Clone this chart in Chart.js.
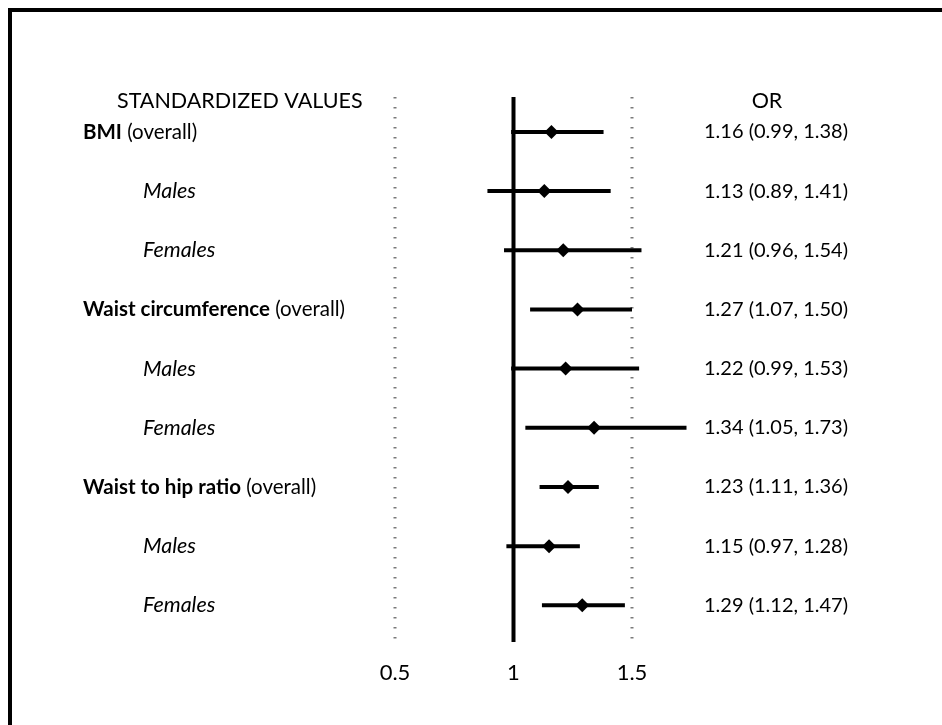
<!DOCTYPE html>
<html>
<head>
<meta charset="utf-8">
<script src="https://cdn.jsdelivr.net/npm/chart.js@4.4.1/dist/chart.umd.min.js"></script>
<style>
  html, body { margin: 0; padding: 0; background: #fff; }
  #wrap { position: relative; width: 942px; height: 725px; overflow: hidden; }
  #frame { position: absolute; left: 8px; top: 8px; width: 960px; height: 760px;
           border-top: 4px solid #000; border-left: 4px solid #000; pointer-events: none; }
  canvas { position: absolute; left: 0; top: 0; }
</style>
</head>
<body>
<div id="wrap">
  <canvas id="c" width="942" height="725"></canvas>
  <div id="frame"></div>
</div>
<script>
// ---- data ----
const rowNames    = ['BMI', 'Males', 'Females', 'Waist circumference', 'Males', 'Females', 'Waist to hip ratio', 'Males', 'Females'];
const rowSuffixes = [' (overall)', '', '', ' (overall)', '', '', ' (overall)', '', ''];
const orValues    = [1.16, 1.13, 1.21, 1.27, 1.22, 1.34, 1.23, 1.15, 1.29];
const lowerCI     = [0.99, 0.89, 0.96, 1.07, 0.99, 1.05, 1.11, 0.97, 1.12];
const upperCI     = [1.38, 1.41, 1.54, 1.50, 1.53, 1.73, 1.36, 1.28, 1.47];
const xTicks      = [0.5, 1, 1.5];
const refSolid    = 1;
const refDotted   = [0.5, 1.5];
const leftHeader  = 'STANDARDIZED VALUES';
const rightHeader = 'OR';

const FONT = 'Lato, "Liberation Sans", sans-serif';

// CI line datasets (one per row) built from the arrays
const ciDatasets = rowNames.map((n, i) => ({
  type: 'line',
  data: [{ x: lowerCI[i], y: i }, { x: upperCI[i], y: i }],
  borderColor: '#000',
  borderWidth: 4,
  pointRadius: 0,
  borderCapStyle: 'butt',
  clip: false,
  order: 2
}));

const pointDataset = {
  type: 'scatter',
  data: orValues.map((v, i) => ({ x: v, y: i })),
  pointStyle: 'rectRot',
  pointRadius: 7,
  pointHoverRadius: 7,
  backgroundColor: '#000',
  borderColor: '#000',
  borderWidth: 0,
  clip: false,
  order: 1
};

const forestPlugin = {
  id: 'forest',
  beforeDatasetsDraw(chart) {
    const { ctx, chartArea, scales } = chart;
    const xs = scales.x;
    ctx.save();
    // dotted reference lines
    ctx.strokeStyle = '#7a7a7a';
    ctx.lineWidth = 3;
    ctx.setLineDash([1.5, 8.5]);
    refDotted.forEach(v => {
      const px = Math.round(xs.getPixelForValue(v));
      ctx.beginPath();
      ctx.moveTo(px, chartArea.top);
      ctx.lineTo(px, chartArea.bottom);
      ctx.stroke();
    });
    // solid line of no effect
    ctx.setLineDash([]);
    ctx.strokeStyle = '#000';
    ctx.lineWidth = 4;
    const p1 = xs.getPixelForValue(refSolid);
    ctx.beginPath();
    ctx.moveTo(p1, chartArea.top);
    ctx.lineTo(p1, chartArea.bottom);
    ctx.stroke();
    ctx.restore();
  },
  afterDraw(chart) {
    const { ctx, scales } = chart;
    const ys = scales.y;
    ctx.save();
    ctx.fillStyle = '#000';
    ctx.textBaseline = 'middle';
    ctx.textAlign = 'left';
    // headers
    ctx.font = '21.5px ' + FONT;
    ctx.fillText(leftHeader, 117, 101);
    ctx.textAlign = 'center';
    ctx.fillText(rightHeader, 767, 101);
    ctx.textAlign = 'left';
    rowNames.forEach((name, i) => {
      const y = ys.getPixelForValue(i);
      const overall = rowSuffixes[i] !== '';
      if (overall) {
        ctx.font = 'bold 20.5px ' + FONT;
        ctx.fillText(name, 83, y);
        const w = ctx.measureText(name).width;
        ctx.font = '20.5px ' + FONT;
        ctx.fillText(rowSuffixes[i], 83 + w, y);
      } else {
        ctx.font = 'italic 21.5px ' + FONT;
        ctx.fillText(name, 143, y);
      }
      ctx.font = '20px ' + FONT;
      const txt = orValues[i].toFixed(2) + ' (' + lowerCI[i].toFixed(2) + ', ' + upperCI[i].toFixed(2) + ')';
      ctx.fillText(txt, 704, y);
    });
    ctx.restore();
  }
};

new Chart(document.getElementById('c'), {
  type: 'scatter',
  data: { datasets: [...ciDatasets, pointDataset] },
  options: {
    responsive: false,
    animation: false,
    events: [],
    layout: { padding: { left: 395, right: 310, top: 97, bottom: 0 } },
    plugins: { legend: { display: false }, tooltip: { enabled: false } },
    scales: {
      x: {
        type: 'linear',
        min: 0.5,
        max: 1.5,
        afterBuildTicks: s => { s.ticks = xTicks.map(v => ({ value: v })); },
        afterFit: s => { s.height = 83; },
        grid: { display: false },
        border: { display: false },
        ticks: {
          color: '#000',
          padding: 10,
          font: { family: FONT, size: 22 },
          maxRotation: 0,
          callback: v => String(v)
        }
      },
      y: {
        type: 'linear',
        min: -0.59,
        max: 8.62,
        reverse: true,
        display: false
      }
    }
  },
  plugins: [forestPlugin]
});
</script>
</body>
</html>
